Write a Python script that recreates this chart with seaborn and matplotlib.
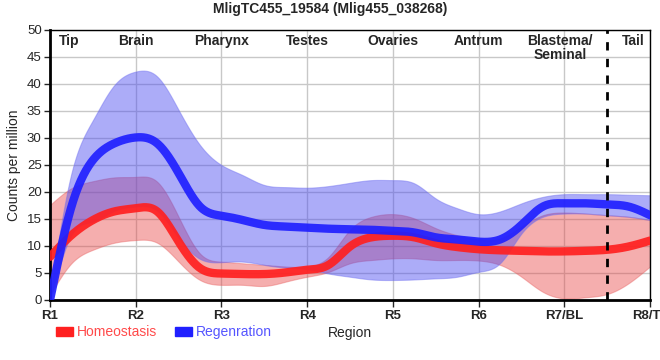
import numpy as np
import pandas as pd
import matplotlib
matplotlib.use("Agg")
import matplotlib.pyplot as plt
import matplotlib.patches as mpatches
import seaborn as sns

# regions along the body
regions = ["R1", "R2", "R3", "R4", "R5", "R6", "R7/BL", "R8/TL"]
region_names = ["Tip", "Brain", "Pharynx", "Testes", "Ovaries", "Antrum", "Blastema/\nSeminal", "Tail"]
name_pos = [0.22, 1.0, 2.0, 3.0, 4.0, 5.0, 5.95, 6.8]

# curves read every quarter region (R1, R1.25, R1.5, ...)
sample_pos = [i / 4 for i in range(29)]

# homeostasis: mean and band
homeo_mean = [8.0, 12.0, 14.8, 16.4, 17.0, 16.4, 10.8, 5.9, 4.9,
              4.8, 4.8, 5.1, 5.6, 6.5, 9.9, 11.6, 11.9, 11.6, 10.5,
              9.8, 9.4, 9.2, 9.1, 9.0, 9.0, 9.1, 9.3, 9.9, 11.0]
homeo_low = [0.9, 6.8, 9.3, 10.6, 11.1, 10.6, 7.1, 3.7, 2.8,
             2.8, 2.6, 3.4, 4.3, 5.2, 6.8, 7.4, 7.7, 7.7, 7.4,
             7.4, 7.3, 6.5, 4.3, 1.5, 0.3, 0.5, 1.1, 3.1, 6.2]
homeo_high = [17.6, 20.7, 22.0, 22.7, 22.8, 21.9, 15.4, 8.6, 7.1,
              6.8, 6.5, 6.2, 6.2, 8.0, 13.0, 15.4, 15.9, 15.1, 13.3,
              12.0, 11.2, 11.4, 13.6, 15.7, 16.2, 16.0, 15.7, 15.4, 14.8]

# regeneration: mean and band
regen_mean = [0.0, 17.3, 25.9, 29.0, 30.1, 29.0, 23.5, 17.3, 15.6,
              14.8, 13.9, 13.6, 13.4, 13.2, 13.1, 13.0, 12.8, 12.5, 11.6,
              11.2, 10.8, 11.2, 13.9, 17.3, 17.9, 17.9, 17.7, 17.3, 15.7]
regen_low = [0.0, 12.0, 14.5, 16.5, 17.3, 16.5, 11.5, 7.6, 7.0,
             7.1, 6.5, 6.0, 5.7, 4.9, 4.3, 3.8, 3.7, 3.8, 4.0,
             4.3, 5.2, 6.8, 12.3, 15.4, 16.0, 16.0, 15.7, 15.4, 14.8]
regen_high = [1.2, 23.5, 33.3, 39.8, 42.3, 41.4, 35.2, 28.7, 25.0,
              23.1, 21.3, 20.9, 20.8, 21.1, 21.7, 22.2, 22.2, 21.6, 18.8,
              17.0, 15.9, 16.4, 17.9, 19.1, 19.6, 19.6, 19.6, 19.5, 19.4]


def spline(x, y, xs):
    # natural cubic spline through the read points
    x = np.asarray(x, float)
    y = np.asarray(y, float)
    n = len(x)
    h = np.diff(x)
    A = np.zeros((n, n))
    b = np.zeros(n)
    A[0, 0] = A[-1, -1] = 1
    for i in range(1, n - 1):
        A[i, i - 1] = h[i - 1]
        A[i, i] = 2 * (h[i - 1] + h[i])
        A[i, i + 1] = h[i]
        b[i] = 6 * ((y[i + 1] - y[i]) / h[i] - (y[i] - y[i - 1]) / h[i - 1])
    M = np.linalg.solve(A, b)
    idx = np.clip(np.searchsorted(x, xs) - 1, 0, n - 2)
    x0, x1 = x[idx], x[idx + 1]
    hh = h[idx]
    return (M[idx] * (x1 - xs) ** 3 / (6 * hh) + M[idx + 1] * (xs - x0) ** 3 / (6 * hh)
            + (y[idx] / hh - M[idx] * hh / 6) * (x1 - xs)
            + (y[idx + 1] / hh - M[idx + 1] * hh / 6) * (xs - x0))


pos = np.arange(len(regions))
xs = np.linspace(0, len(regions) - 1, 700)

sns.set_style("white")
plt.rcParams["font.family"] = ["Liberation Sans", "DejaVu Sans"]

fig = plt.figure(figsize=(6.6, 3.6), dpi=100)
ax = fig.add_axes([0.0758, 0.1667, 0.9091, 0.75])

red = "#ff2020"
blue = "#2020ff"

ax.fill_between(xs, spline(sample_pos, homeo_low, xs), spline(sample_pos, homeo_high, xs),
                color="#e84040", alpha=0.42, lw=0.8, edgecolor="#e86060", zorder=2)
ax.fill_between(xs, spline(sample_pos, regen_low, xs), spline(sample_pos, regen_high, xs),
                color="#4848f0", alpha=0.45, lw=0.8, edgecolor="#7070f0", zorder=2)

lines = pd.DataFrame({
    "x": np.concatenate([xs, xs]),
    "y": np.concatenate([spline(sample_pos, homeo_mean, xs), spline(sample_pos, regen_mean, xs)]),
    "group": ["Homeostasis"] * len(xs) + ["Regenration"] * len(xs),
})
sns.lineplot(data=lines, x="x", y="y", hue="group", palette=[red, blue],
             linewidth=6, alpha=0.92, legend=False, ax=ax, zorder=3)

ax.axvline(6.5, color="black", lw=2, ls=(0, (3, 3)), zorder=4)

ax.set_xlim(0, len(regions) - 1)
ax.set_ylim(0, 50)
ax.set_yticks(range(0, 51, 5))
ax.set_xticks(pos)
ax.set_xticklabels(regions, fontweight="bold", fontsize=9.5)
ax.tick_params(axis="y", labelsize=9.5, length=4, width=1, direction="out", left=True, pad=2)
ax.tick_params(axis="x", length=5, width=1, direction="out", bottom=True, pad=2)
ax.grid(True, color="#c8c8c8", lw=1)
ax.set_axisbelow(True)
for s in ["top", "right"]:
    ax.spines[s].set_color("black")
    ax.spines[s].set_linewidth(1)
for s in ["left", "bottom"]:
    ax.spines[s].set_color("black")
    ax.spines[s].set_linewidth(2)

for name, p in zip(region_names, name_pos):
    ax.text(p, 49.2, name, ha="center", va="top", fontsize=10, fontweight="bold",
            linespacing=1.0, zorder=5)

ax.set_ylabel("Counts per million", fontsize=10, labelpad=4)
ax.set_xlabel("Region", fontsize=10)
ax.xaxis.set_label_coords(0.5, -0.095)

fig.suptitle("MligTC455_19584 (Mlig455_038268)", fontsize=10, fontweight="bold", y=0.995)

handles = [mpatches.Patch(color=red, label="Homeostasis"),
           mpatches.Patch(color=blue, label="Regenration")]
leg = fig.legend(handles=handles, loc="lower left", bbox_to_anchor=(0.07, 0.03), ncol=2,
                 frameon=False, fontsize=10, handlelength=1.2, handleheight=0.6,
                 handletextpad=0.3, columnspacing=1.3, borderpad=0.2)
for t, c in zip(leg.get_texts(), ["#ff4a4a", "#5555ff"]):
    t.set_color(c)

fig.savefig("out.png", dpi=100)
